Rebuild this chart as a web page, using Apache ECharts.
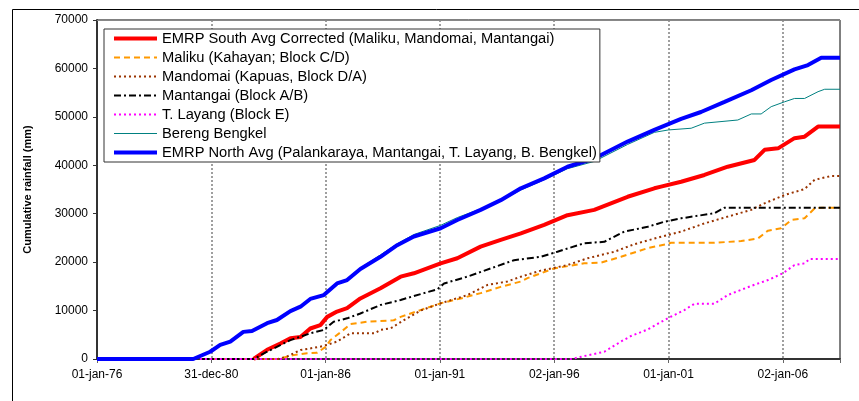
<!DOCTYPE html>
<html>
<head>
<meta charset="utf-8">
<script src="https://cdn.jsdelivr.net/npm/echarts@6/dist/echarts.min.js"></script>
<style>
html,body{margin:0;padding:0;background:#fff;}
#chart{width:859px;height:401px;}
</style>
</head>
<body>
<div id="chart"></div>
<script>
// x values are decimal years; y values are cumulative rainfall (mm)
var startYear = 1976;
var xTickLabels = ['01-jan-76','31-dec-80','01-jan-86','01-jan-91','02-jan-96','01-jan-01','02-jan-06'];
var yTickValues = [0,10000,20000,30000,40000,50000,60000,70000];

var southNames = 'EMRP South Avg Corrected (Maliku, Mandomai, Mantangai)';
var malikuName = 'Maliku (Kahayan; Block C/D)';
var mandomaiName = 'Mandomai (Kapuas, Block D/A)';
var mantangaiName = 'Mantangai (Block A/B)';
var layangName = 'T. Layang (Block E)';
var bengkelName = 'Bereng Bengkel';
var northName = 'EMRP North Avg (Palankaraya, Mantangai, T. Layang, B. Bengkel)';

var southAvg = [[1982.85,0],[1983.44,1900],[1984.02,3200],[1984.46,4300],[1984.90,4550],[1985.33,6300],[1985.77,7000],[1986.07,8700],[1986.50,9800],[1986.94,10500],[1987.52,12500],[1988.40,14600],[1989.28,17000],[1989.86,17700],[1991.03,19750],[1991.76,20800],[1992.78,23200],[1993.66,24600],[1994.54,25950],[1995.56,27700],[1996.58,29700],[1997.75,30800],[1999.21,33500],[2000.38,35250],[2000.67,35600],[2001.55,36600],[2002.57,38000],[2003.59,39700],[2004.76,41100],[2005.20,43200],[2005.79,43500],[2006.51,45600],[2006.95,45900],[2007.54,48000],[2008.5,48000]];

var maliku = [[1980.6,0],[1983.9,0],[1984.6,800],[1985.19,1200],[1985.63,1300],[1986.0,2500],[1986.21,3900],[1986.65,5500],[1987.09,7200],[1987.82,7700],[1988.98,8000],[1989.28,8700],[1990.15,10100],[1991.03,11500],[1991.91,12500],[1992.78,13600],[1993.66,14900],[1994.54,16000],[1994.83,16700],[1995.99,18700],[1997.31,19750],[1998.04,19900],[1998.92,21100],[2000.09,22900],[2000.96,23750],[2001.11,24000],[2003.01,24000],[2004.18,24350],[2004.91,24900],[2005.35,26500],[2005.93,27000],[2006.37,28700],[2006.95,29050],[2007.39,31100],[2007.7,31250],[2008.5,31250]];

var mandomai = [[1980.6,0],[1983.9,0],[1984.31,500],[1984.90,1860],[1985.48,2300],[1985.92,2700],[1986.50,3600],[1987.09,5300],[1988.15,5300],[1988.40,6000],[1988.85,6340],[1989.43,8050],[1990.15,10000],[1991.03,11500],[1992.20,13200],[1993.08,15300],[1993.95,16000],[1994.54,17000],[1995.41,18250],[1996.58,19400],[1997.46,20800],[1998.63,22150],[1999.50,23700],[2000.67,25250],[2001.55,26300],[2002.57,28000],[2003.59,29400],[2004.62,30800],[2005.20,32150],[2006.07,33850],[2006.95,35100],[2007.39,37000],[2008.12,37800],[2008.5,37800]];

var mantangai = [[1980.6,0],[1982.85,0],[1983.44,1500],[1984.46,3900],[1985.33,5300],[1985.92,6000],[1986.35,7700],[1986.94,8400],[1987.52,9400],[1988.40,11150],[1989.28,12200],[1990.30,13600],[1990.89,14400],[1991.18,15600],[1992.20,17000],[1993.22,18700],[1994.24,20400],[1995.41,21100],[1996.14,22150],[1997.31,23900],[1998.19,24200],[1999.06,26300],[2000.09,27300],[2000.82,28350],[2001.55,29050],[2003.01,30100],[2003.45,31250],[2008.5,31250]];

var tLayang = [[1980.5,0],[1996.8,0],[1997.02,300],[1998.19,1500],[1998.92,3600],[1999.36,4750],[2000.09,6100],[2000.96,8400],[2001.69,10100],[2002.13,11400],[2003.0,11400],[2003.59,13200],[2004.62,15100],[2005.35,16300],[2006.0,17700],[2006.51,19400],[2006.95,19750],[2007.17,20650],[2008.5,20650]];

var bengkel = [[1976.0,0],[1980.21,0],[1980.95,1500],[1981.39,2900],[1981.83,3600],[1982.40,5600],[1982.78,5800],[1983.44,7400],[1983.87,8050],[1984.46,9900],[1984.90,10800],[1985.33,12400],[1985.92,13200],[1986.50,15600],[1986.94,16300],[1987.52,18800],[1988.40,21500],[1989.13,23800],[1989.86,25700],[1991.03,27600],[1991.76,29200],[1992.78,31000],[1993.66,32700],[1994.54,34900],[1995.56,37000],[1996.58,39300],[1997.75,40800],[1999.21,44300],[2000.38,46800],[2001.0,47300],[2001.99,47650],[2002.57,48700],[2004.03,49350],[2004.62,50600],[2005.05,50600],[2005.49,52100],[2006.07,53100],[2006.51,53800],[2006.95,53800],[2007.54,55200],[2007.83,55700],[2008.5,55700]];

var northAvg = [[1976.0,0],[1980.21,0],[1980.95,1500],[1981.39,2900],[1981.83,3600],[1982.40,5600],[1982.78,5800],[1983.44,7400],[1983.87,8050],[1984.46,9900],[1984.90,10800],[1985.33,12400],[1985.92,13200],[1986.50,15600],[1986.94,16300],[1987.52,18600],[1988.40,21100],[1989.13,23500],[1989.86,25300],[1991.03,27000],[1991.76,28700],[1992.78,30800],[1993.66,32800],[1994.54,35250],[1995.56,37300],[1996.58,39700],[1997.75,41400],[1999.21,44900],[2000.38,47300],[2001.55,49600],[2002.42,51000],[2003.45,53100],[2004.62,55500],[2005.49,57600],[2006.51,59800],[2007.10,60700],[2007.68,62200],[2008.5,62200]];

function toAxis(arr){ return arr.map(function(p){ return [p[0]-startYear, p[1]]; }); }

var FONT = 'Liberation Sans, Arial, sans-serif';
function mk(name, data, color, width, type){
  return {
    name: name, type: 'line', data: toAxis(data), symbol: 'none', showSymbol: false,
    animation: false, lineStyle: {color: color, width: width, type: type},
    itemStyle: {color: color, opacity: 0}, emphasis: {disabled: true}
  };
}

var chart = echarts.init(document.getElementById('chart'), null, {renderer: 'canvas'});
chart.setOption({
  backgroundColor: '#fff',
  animation: false,
  textStyle: {fontFamily: FONT},
  graphic: [{
    type: 'rect', silent: true, z: -10,
    shape: {x: 12.5, y: 9.5, width: 900, height: 500},
    style: {fill: 'none', stroke: '#000', lineWidth: 1}
  }],
  grid: {left: 97, right: 19, top: 20, bottom: 42, show: true, borderColor: '#000', borderWidth: 1, backgroundColor: 'transparent'},
  legend: {
    orient: 'vertical', left: 104, top: 29,
    itemWidth: 43, itemHeight: 14, itemGap: 4,
    padding: [2, 3, 2, 8],
    borderColor: '#333', borderWidth: 1, backgroundColor: '#fff',
    itemStyle: {opacity: 0},
    lineStyle: {width: 'inherit'},
    textStyle: {fontSize: 14.7, color: '#000', fontFamily: FONT},
    selectedMode: false,
    data: [southNames, malikuName, mandomaiName, mantangaiName, layangName, bengkelName, northName]
  },
  xAxis: [{
    type: 'value', min: 0, max: 32.5, interval: 5,
    axisLine: {show: true, onZero: false, lineStyle: {color: '#333', width: 2}},
    axisTick: {show: true, length: 4, lineStyle: {color: '#666', width: 1}},
    splitLine: {show: true, lineStyle: {color: '#808080', width: 1.5, type: [2, 2]}},
    axisLabel: {
      color: '#000', fontSize: 12, margin: 10, fontFamily: FONT,
      formatter: function(v){
        var i = Math.round(v / 5);
        if (Math.abs(v - i * 5) > 1e-6) return '';
        return xTickLabels[i] || '';
      }
    }
  }, {
    type: 'value', position: 'top', min: 0, max: 32.5, interval: 5,
    axisLine: {show: true, onZero: false, lineStyle: {color: '#888', width: 1}},
    axisTick: {show: false}, axisLabel: {show: false}, splitLine: {show: false}
  }],
  yAxis: {
    type: 'value', min: yTickValues[0], max: yTickValues[yTickValues.length - 1], interval: 10000,
    name: 'Cumulative rainfall (mm)', nameLocation: 'middle', nameGap: 64,
    nameTextStyle: {fontSize: 11, fontWeight: 'bold', color: '#000', fontFamily: FONT},
    axisLine: {show: true, lineStyle: {color: '#333', width: 2}},
    axisTick: {show: true, length: 4, lineStyle: {color: '#333', width: 1}},
    splitLine: {show: false},
    axisLabel: {color: '#000', fontSize: 12, margin: 9, fontFamily: FONT,
      formatter: function(v){ return String(v); }}
  },
  series: [
    mk(southNames, southAvg, '#FF0000', 4, 'solid'),
    mk(malikuName, maliku, '#FF9900', 2, [6, 4]),
    mk(mandomaiName, mandomai, '#993300', 2, [2, 3]),
    mk(mantangaiName, mantangai, '#000000', 2, [7, 3, 2, 3]),
    mk(layangName, tLayang, '#FF00FF', 2, [2, 3]),
    mk(bengkelName, bengkel, '#008080', 1, 'solid'),
    mk(northName, northAvg, '#0000FF', 4, 'solid')
  ]
});
</script>
</body>
</html>
